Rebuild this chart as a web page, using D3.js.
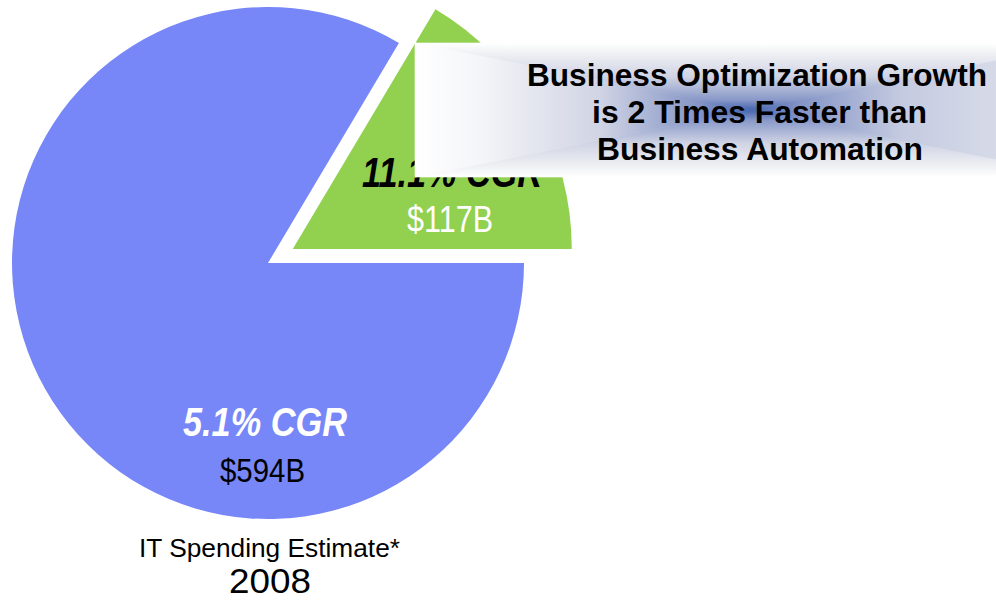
<!DOCTYPE html>
<html>
<head>
<meta charset="utf-8">
<script src="https://cdn.jsdelivr.net/npm/d3@7"></script>
<style>
  html, body { margin: 0; padding: 0; background: #ffffff; }
  svg { display: block; }
  text { font-family: "Liberation Sans", Arial, Helvetica, sans-serif; }
</style>
</head>
<body>
<svg id="chart" width="996" height="602"></svg>
<script>
// IT spending split, 2008 ($ billions) and compound growth rate per segment
const categories = ["Business Automation", "Business Optimization"];
const spending = [594, 117];
const growthRates = [5.1, 11.1];
const sliceColors = ["#7787f8", "#92d050"];
const headline = [
  "Business Optimization Growth",
  "is 2 Times Faster than",
  "Business Automation"
];
const caption = "IT Spending Estimate*";
const yearLabel = "2008";

const svg = d3.select("#chart");

// pie geometry
const center = { x: 268, y: 263 };
const radii = [256, 279];
const explode = [0, 28.5];

const pie = d3.pie()
  .sort(null)
  .value(d => d)
  .startAngle(Math.PI / 2)
  .endAngle(Math.PI / 2 + 2 * Math.PI);
const slices = pie(spending);

const arc = d3.arc().innerRadius(0);

const sliceG = svg.append("g")
  .attr("transform", `translate(${center.x},${center.y})`);

sliceG.selectAll("path")
  .data(slices)
  .join("path")
  .attr("d", (d, i) => arc.outerRadius(radii[i])(d))
  .attr("fill", (d, i) => sliceColors[i])
  .attr("transform", (d, i) => {
    const mid = (d.startAngle + d.endAngle) / 2;
    return `translate(${explode[i] * Math.sin(mid)},${-explode[i] * Math.cos(mid)})`;
  });

// slice labels: growth rate and spend
const labelLayout = [
  { rate: { x: 183, y: 436, size: 40, len: 164, fill: "#ffffff" },
    value: { x: 220, y: 482, size: 34, len: 85, fill: "#000000" } },
  { rate: { x: 362, y: 187, size: 42, len: 180, fill: "#000000" },
    value: { x: 407, y: 232, size: 36, len: 86, fill: "#ffffff" } }
];

categories.forEach((c, i) => {
  const L = labelLayout[i];
  svg.append("text")
    .attr("x", L.rate.x).attr("y", L.rate.y)
    .attr("font-size", L.rate.size)
    .attr("font-weight", "bold")
    .attr("font-style", "italic")
    .attr("fill", L.rate.fill)
    .attr("textLength", L.rate.len)
    .attr("lengthAdjust", "spacingAndGlyphs")
    .text(`${growthRates[i]}% CGR`);
  svg.append("text")
    .attr("x", L.value.x).attr("y", L.value.y)
    .attr("font-size", L.value.size)
    .attr("fill", L.value.fill)
    .attr("textLength", L.value.len)
    .attr("lengthAdjust", "spacingAndGlyphs")
    .text(`$${spending[i]}B`);
});

// caption under the pie
svg.append("text")
  .attr("x", 139).attr("y", 557)
  .attr("font-size", 26)
  .attr("textLength", 261)
  .attr("lengthAdjust", "spacingAndGlyphs")
  .text(caption);
svg.append("text")
  .attr("x", 229).attr("y", 593)
  .attr("font-size", 35)
  .attr("textLength", 82)
  .attr("lengthAdjust", "spacingAndGlyphs")
  .text(yearLabel);

// callout box: rectangular gradient shaded from its centre outward
const box = { x0: 415, y0: 43, x1: 1085, y1: 177, cx: 750, cy: 110 };
const defs = svg.append("defs");

function makeGrad(id, x1, y1, x2, y2, stops) {
  const g = defs.append("linearGradient")
    .attr("id", id)
    .attr("gradientUnits", "userSpaceOnUse")
    .attr("x1", x1).attr("y1", y1).attr("x2", x2).attr("y2", y2);
  stops.forEach(s => g.append("stop").attr("offset", s[0]).attr("stop-color", s[1]));
}
const edgeToCenter = [
  [0, "#ffffff"], [0.2, "#f4f5f8"], [0.55, "#d0d4e4"], [0.85, "#8494c6"], [1, "#4565b0"]
];
const edgeToCenterRight = [
  [0, "#eef0f6"], [0.27, "#d6dae8"], [0.55, "#c4cae0"], [0.85, "#8494c6"], [1, "#4565b0"]
];
const edgeToCenterV = [
  [0, "#ffffff"], [0.15, "#f0f1f4"], [0.5, "#d0d4e4"], [0.85, "#8898c8"], [1, "#4565b0"]
];

makeGrad("gTop", 0, box.y0, 0, box.cy, edgeToCenterV);
makeGrad("gBottom", 0, box.y1, 0, box.cy, edgeToCenterV);
makeGrad("gLeft", box.x0, 0, box.cx, 0, edgeToCenter);
makeGrad("gRight", box.x1, 0, box.cx, 0, edgeToCenterRight);

const boxG = svg.append("g");
boxG.append("rect")
  .attr("x", box.x0).attr("y", box.y0)
  .attr("width", box.x1 - box.x0).attr("height", box.y1 - box.y0)
  .attr("fill", "#ffffff");

const tri = [
  { id: "gTop", pts: [[box.x0, box.y0], [box.x1, box.y0], [box.cx, box.cy]] },
  { id: "gBottom", pts: [[box.x0, box.y1], [box.x1, box.y1], [box.cx, box.cy]] },
  { id: "gLeft", pts: [[box.x0, box.y0], [box.x0, box.y1], [box.cx, box.cy]] },
  { id: "gRight", pts: [[box.x1, box.y0], [box.x1, box.y1], [box.cx, box.cy]] }
];
boxG.selectAll("path.tri")
  .data(tri)
  .join("path")
  .attr("class", "tri")
  .attr("d", d => "M" + d.pts.map(p => p.join(",")).join("L") + "Z")
  .attr("fill", d => `url(#${d.id})`)
  .attr("stroke", d => `url(#${d.id})`)
  .attr("stroke-width", 0.6);

const headLayout = [
  { x: 527, y: 86, len: 460 },
  { x: 592, y: 123, len: 335 },
  { x: 597, y: 160, len: 326 }
];
boxG.selectAll("text.head")
  .data(headline)
  .join("text")
  .attr("class", "head")
  .attr("x", (d, i) => headLayout[i].x)
  .attr("y", (d, i) => headLayout[i].y)
  .attr("font-size", 31)
  .attr("font-weight", "bold")
  .attr("fill", "#000000")
  .attr("textLength", (d, i) => headLayout[i].len)
  .attr("lengthAdjust", "spacingAndGlyphs")
  .text(d => d);
</script>
</body>
</html>
